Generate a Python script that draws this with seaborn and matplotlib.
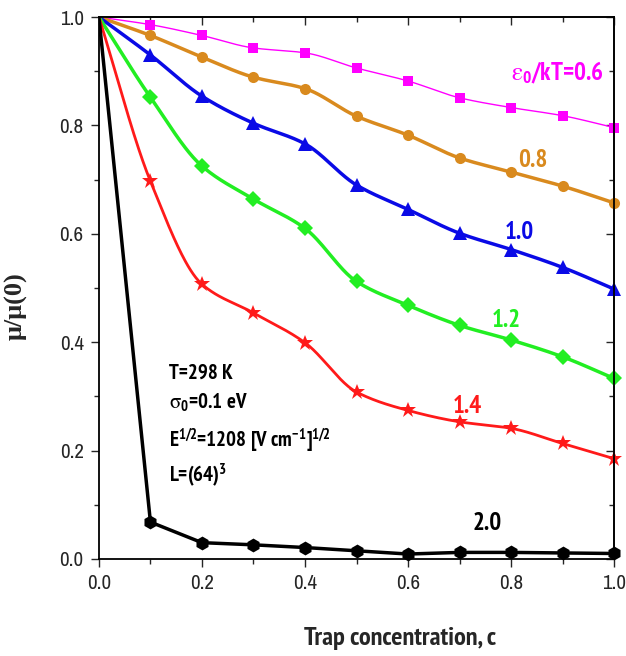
import numpy as np
import pandas as pd
import matplotlib
matplotlib.use("Agg")
import matplotlib.pyplot as plt
from matplotlib import font_manager as fm
from matplotlib.ticker import MultipleLocator, FormatStrFormatter
import seaborn as sns

# ---- data ----
c = [0.0, 0.1, 0.2, 0.3, 0.4, 0.5, 0.6, 0.7, 0.8, 0.9, 1.0]
mu_06 = [1.0, 0.986, 0.966, 0.943, 0.934, 0.906, 0.882, 0.851, 0.833, 0.818, 0.796]
mu_08 = [1.0, 0.966, 0.926, 0.889, 0.868, 0.817, 0.782, 0.740, 0.714, 0.688, 0.657]
mu_10 = [1.0, 0.930, 0.854, 0.804, 0.766, 0.690, 0.645, 0.601, 0.571, 0.538, 0.498]
mu_12 = [1.0, 0.852, 0.725, 0.664, 0.610, 0.512, 0.468, 0.431, 0.404, 0.373, 0.333]
mu_14 = [1.0, 0.697, 0.507, 0.454, 0.399, 0.308, 0.274, 0.253, 0.241, 0.213, 0.185]
mu_20 = [1.0, 0.068, 0.030, 0.026, 0.021, 0.015, 0.009, 0.012, 0.012, 0.011, 0.010]
labels = ["0.6", "0.8", "1.0", "1.2", "1.4", "2.0"]

sns.set_theme(style="ticks")


def find_narrow(bold):
    ents = fm.fontManager.ttflist
    cond = ('condensed', 'semi-condensed', 'extra-condensed', 'ultra-condensed')
    good = []
    for f in ents:
        nm = f.name.lower()
        if 'serif' in nm and 'sans' not in nm:
            continue
        if 'mono' in nm:
            continue
        if ('narrow' in nm or 'condensed' in nm or str(f.stretch) in cond
                or (isinstance(f.stretch, (int, float)) and f.stretch < 500)):
            w = f.weight if isinstance(f.weight, (int, float)) else (700 if 'bold' in str(f.weight) else 400)
            if (w >= 600) == bold and f.style == 'normal':
                good.append(f)
    if not good:
        return None
    good.sort(key=lambda f: (0 if 'liberation' in f.name.lower() else 1 if 'narrow' in f.name.lower() else 2))
    return good[0]


fb = find_narrow(True)
fr = find_narrow(False)
if fb is not None:
    fpb = lambda s: fm.FontProperties(fname=fb.fname, size=s)
    bold_name = fb.name
    wide = False
else:
    fpb = lambda s: fm.FontProperties(family='Liberation Sans', weight='bold', size=s)
    bold_name = 'Liberation Sans'
    wide = True
if fr is not None:
    fpr = lambda s: fm.FontProperties(fname=fr.fname, size=s)
else:
    fpr = lambda s: fm.FontProperties(family='Liberation Sans', size=s)

plt.rcParams['font.family'] = ['Liberation Sans', 'DejaVu Sans']
plt.rcParams['mathtext.fontset'] = 'custom'
plt.rcParams['mathtext.rm'] = bold_name + ':bold'
plt.rcParams['mathtext.it'] = bold_name + ':bold'
plt.rcParams['mathtext.bf'] = bold_name + ':bold'


def pchip(x, y, xs):
    x = np.asarray(x, float); y = np.asarray(y, float)
    h = np.diff(x); d = np.diff(y) / h
    n = len(x); m = np.zeros(n)
    for k in range(1, n - 1):
        if d[k - 1] * d[k] <= 0:
            m[k] = 0.0
        else:
            w1 = 2 * h[k] + h[k - 1]; w2 = h[k] + 2 * h[k - 1]
            m[k] = (w1 + w2) / (w1 / d[k - 1] + w2 / d[k])
    m[0] = d[0]; m[-1] = d[-1]
    idx = np.clip(np.searchsorted(x, xs) - 1, 0, n - 2)
    t = (xs - x[idx]) / h[idx]
    h00 = 2 * t**3 - 3 * t**2 + 1; h10 = t**3 - 2 * t**2 + t
    h01 = -2 * t**3 + 3 * t**2; h11 = t**3 - t**2
    return h00 * y[idx] + h10 * h[idx] * m[idx] + h01 * y[idx + 1] + h11 * h[idx] * m[idx + 1]


fig = plt.figure(figsize=(6.26, 6.56), dpi=100)
ax = fig.add_axes([0.158, 0.148, 0.823, 0.826])

series = [
    (mu_06, "#FF00FF", "s", 1.0, 7, True),
    (mu_08, "#D98A1E", "o", 2.5, 8, True),
    (mu_10, "#0A0AE6", "^", 2.5, 10, True),
    (mu_12, "#22EE22", "D", 2.5, 8, True),
    (mu_14, "#FF1A1A", "*", 2.0, 12, True),
    (mu_20, "#000000", "h", 2.5, 10, False),
]
xs = np.linspace(0, 1, 400)
for vals, col, mk, lw, ms, smooth in series:
    if smooth:
        dense = pd.DataFrame({"c": xs, "mu": pchip(c, vals, xs)})
        sns.lineplot(data=dense, x="c", y="mu", color=col, linewidth=lw, ax=ax)
    else:
        sns.lineplot(x=c, y=vals, color=col, linewidth=lw, ax=ax)
    sns.lineplot(x=c[1:], y=vals[1:], color=col, marker=mk, markersize=ms,
                 markeredgewidth=0, linewidth=0, ax=ax, clip_on=False)

ax.set_xlim(0, 1.0)
ax.set_ylim(0, 1.0)
ax.xaxis.set_major_locator(MultipleLocator(0.2))
ax.xaxis.set_minor_locator(MultipleLocator(0.1))
ax.yaxis.set_major_locator(MultipleLocator(0.2))
ax.yaxis.set_minor_locator(MultipleLocator(0.1))
ax.xaxis.set_major_formatter(FormatStrFormatter('%.1f'))
ax.yaxis.set_major_formatter(FormatStrFormatter('%.1f'))
ax.tick_params(which='major', direction='out', length=6, width=1, pad=5)
ax.tick_params(which='minor', direction='out', length=3.5, width=1)
tick_size = 12.5 if wide else 15
for lab in ax.get_xticklabels() + ax.get_yticklabels():
    lab.set_fontproperties(fpr(tick_size))
for s in ax.spines.values():
    s.set_linewidth(1.3)
    s.set_color('black')

top = ax.secondary_xaxis('top')
top.xaxis.set_major_locator(MultipleLocator(0.2))
top.xaxis.set_minor_locator(MultipleLocator(0.1))
top.tick_params(which='major', direction='in', length=6, width=1, labeltop=False)
top.tick_params(which='minor', direction='in', length=3.5, width=1)
right = ax.secondary_yaxis('right')
right.yaxis.set_major_locator(MultipleLocator(0.2))
right.yaxis.set_minor_locator(MultipleLocator(0.1))
right.tick_params(which='major', direction='in', length=6, width=1, labelright=False)
right.tick_params(which='minor', direction='in', length=3.5, width=1)

ax.set_xlabel("Trap concentration, c", fontproperties=fpb(15 if wide else 19))
ax.xaxis.set_label_coords(0.584, -0.125)
ax.set_ylabel("μ/μ(0)", fontsize=19, fontweight='bold', family=['Liberation Serif', 'DejaVu Serif'])
ax.yaxis.set_label_coords(-0.138, 0.466)

lsz = 15 if wide else 18
ax.text(0.89, 0.898, r"$\mathregular{\varepsilon_0}$/kT=0.6", color="#FF00FF",
        fontproperties=fpb(lsz), ha='center', va='center')
for txt, col, x, y in [("0.8", "#D98A1E", 0.843, 0.736), ("1.0", "#0A0AE6", 0.816, 0.603),
                       ("1.2", "#22EE22", 0.79, 0.44), ("1.4", "#FF1A1A", 0.715, 0.282),
                       ("2.0", "black", 0.753, 0.065)]:
    ax.text(x, y, txt, color=col, fontproperties=fpb(lsz), ha='center', va='center')

asz = 12.5 if wide else 15
for txt, y in [("T=298 K", 0.343), (r"$\mathregular{\sigma_0}$=0.1 eV", 0.288),
               (r"E$^{1/2}$=1208 [V cm$^{-1}$]$^{1/2}$", 0.220), (r"L=(64)$^{3}$", 0.155)]:
    ax.text(0.137, y, txt, color='black', fontproperties=fpb(asz), ha='left', va='center')

fig.savefig("out.png", dpi=100)
